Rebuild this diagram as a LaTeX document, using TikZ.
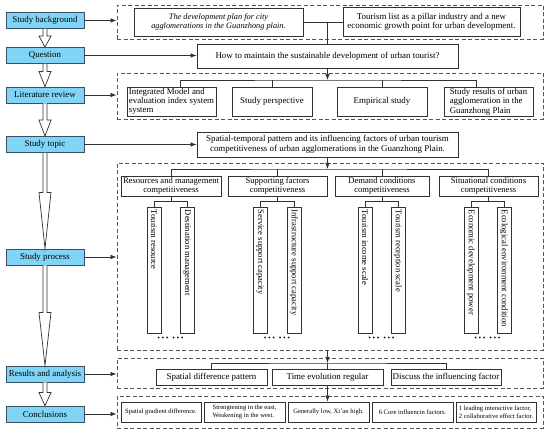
\documentclass[tikz,border=0pt]{standalone}
\usepackage{fontspec}
\setmainfont{Liberation Serif}
\usetikzlibrary{arrows.meta,calc}
\definecolor{cyanfill}{RGB}{128,212,246}
\definecolor{cyanline}{RGB}{55,80,100}
\definecolor{boxline}{RGB}{50,50,50}
\definecolor{dashline}{RGB}{85,85,85}
\newcommand\hollowarr[3]{%
  \draw[hol] ($(#1.south)+(-2,0)$) -- ($(#2.north)+(-2,-#3)$) -- ($(#2.north)+(-6,-#3)$) -- (#2.north) -- ($(#2.north)+(6,-#3)$) -- ($(#2.north)+(2,-#3)$) -- ($(#1.south)+(2,0)$);}
\begin{document}
\begin{tikzpicture}[x=1pt,y=-1pt,
  lbox/.style={draw=cyanline, fill=cyanfill, line width=0.8pt, minimum width=78pt, minimum height=16pt, inner sep=0pt, font=\fontsize{8.9}{9.6}\selectfont},
  bx/.style={draw=boxline, line width=0.8pt, inner sep=0pt, font=\fontsize{8.9}{9.6}\selectfont, align=center},
  sz/.style 2 args={minimum width=#1pt, minimum height=#2pt},
  dbox/.style={draw=dashline, dash pattern=on 4pt off 2.5pt, line width=0.9pt, inner sep=0pt},
  conn/.style={draw=boxline, line width=0.7pt},
  arr/.style={conn, -{Latex[length=6pt,width=4.5pt]}},
  hol/.style={draw=boxline, fill=white, line width=0.7pt, line join=miter},
  vtxt/.style={rotate=-90, anchor=west, inner sep=0pt, font=\fontsize{8.6}{9}\selectfont},
  dots/.style={inner sep=0pt, font=\fontsize{7.5}{7.5}\selectfont},
  small/.style={font=\fontsize{6.6}{7.6}\selectfont, align=left},
]
\useasboundingbox (0,0) rectangle (550,435);

% left column
\node[lbox] (lb1) at (45,20.5) {Study background};
\node[lbox] (lb2) at (45,55.5) {Question};
\node[lbox] (lb3) at (45,95) {Literature review};
\node[lbox] (lb4) at (45,144.5) {Study topic};
\node[lbox] (lb5) at (45,257) {Study process};
\node[lbox] (lb6) at (45,374) {Results and analysis};
\node[lbox] (lb7) at (45,414) {Conclusions};

\hollowarr{lb1}{lb2}{11}
\hollowarr{lb2}{lb3}{15}
\hollowarr{lb3}{lb4}{16}
\hollowarr{lb4}{lb5}{56}
\hollowarr{lb5}{lb6}{53}
\hollowarr{lb6}{lb7}{13}

% dashed frames
\node[dbox, sz={426}{34}] (D1) at (330,22) {};
\node[dbox, sz={426}{46}] (D2) at (330,96) {};
\node[dbox, sz={426}{187}] (D3) at (330,256.5) {};
\node[dbox, sz={426}{30}] (D4) at (330,373) {};
\node[dbox, sz={426}{32}] (D5) at (330,412) {};

% background
\node[bx, sz={169}{28}, font=\itshape\fontsize{8.3}{9.6}\selectfont] (bg1) at (218.5,22) {The development plan for city\\agglomerations in the Guanzhong plain.};
\node[bx, sz={177}{29}] (bg2) at (431.5,22) {Tourism list as a pillar industry and a new\\economic growth point for urban development.};
\node[bx, sz={261}{24}] (q) at (327.5,56) {How to maintain the sustainable development of urban tourist?};
\coordinate (bgj) at (327.5,22);
\draw[conn] (bg1.east) -- (bg2.west);
\draw[conn] (bgj) -- (q.north);

% literature
\node[bx, sz={89}{29}, align=left, font=\fontsize{8.8}{9.4}\selectfont] (l1) at (171.5,101.5) {Integrated Model and\\evaluation index system\\system};
\node[bx, sz={80}{29}] (l2) at (272,101.5) {Study perspective};
\node[bx, sz={90}{29}] (l3) at (382,101.5) {Empirical study};
\node[bx, sz={89}{29}, align=left, font=\fontsize{8.8}{9.4}\selectfont] (l4) at (488.5,101.5) {Study results of urban\\agglomeration in the\\Guanzhong Plain};
\coordinate (lbus) at (327.5,80);
\coordinate (l1t) at ($(l1.north)+(8.5,0)$);
\coordinate (l4t) at ($(l4.north)+(-12,0)$);
\draw[conn] (l1t) |- (lbus) -| (l4t);
\draw[conn] (l2.north) -- (l2.north |- lbus);
\draw[conn] (l3.north) -- (l3.north |- lbus);
\draw[arr] (q.south) -- (lbus);

% study topic
\node[bx, sz={261}{25}] (t) at (327.5,144.5) {Spatial-temporal pattern and its influencing factors of urban tourism\\competitiveness of urban agglomerations in the Guanzhong Plain.};

% process
\node[bx, sz={100}{20}, font=\fontsize{8.6}{9.2}\selectfont] (c1) at (171,186) {Resources and management\\competitiveness};
\node[bx, sz={99}{20}, font=\fontsize{8.6}{9.2}\selectfont] (c2) at (277.5,186) {Supporting factors\\competitiveness};
\node[bx, sz={94}{20}, font=\fontsize{8.6}{9.2}\selectfont] (c3) at (382,186) {Demand conditions\\competitiveness};
\node[bx, sz={99}{20}, font=\fontsize{8.6}{9.2}\selectfont] (c4) at (488.5,186) {Situational conditions\\competitiveness};
\coordinate (pbus) at (327.5,169);
\draw[conn] (c1.north) |- (pbus) -| (c4.north);
\draw[conn] (c2.north) -- (c2.north |- pbus);
\draw[conn] (c3.north) -- (c3.north |- pbus);
\draw[arr] (t.south) -- (pbus);

\node[bx, sz={14}{126}] (s11) at (154,270) {};
\node[bx, sz={14}{126}] (s12) at (187,270) {};
\node[bx, sz={14}{126}] (s21) at (260,270) {};
\node[bx, sz={14}{126}] (s22) at (294,270) {};
\node[bx, sz={14}{126}] (s31) at (365,270) {};
\node[bx, sz={14}{126}] (s32) at (398,270) {};
\node[bx, sz={14}{126}] (s41) at (471,270) {};
\node[bx, sz={14}{126}] (s42) at (504,270) {};

\node[vtxt] (t11) at ($(s11.north)+(0,3)$) {Tourism resource};
\node[vtxt] (t12) at ($(s12.north)+(0,3)$) {Destination management};
\node[vtxt] (t21) at ($(s21.north)+(0,3)$) {Service support capacity};
\node[vtxt] (t22) at ($(s22.north)+(0,3)$) {Infrastructure support capacity};
\node[vtxt] (t31) at ($(s31.north)+(0,3)$) {Tourism income scale};
\node[vtxt] (t32) at ($(s32.north)+(0,3)$) {Tourism reception scale};
\node[vtxt] (t41) at ($(s41.north)+(0,3)$) {Economic development power};
\node[vtxt] (t42) at ($(s42.north)+(0,3)$) {Ecological environment condition};

\foreach \i in {1,2,3,4}{
  \path (c\i.south) ++(0,5) coordinate (sb\i);
  \draw[conn] (c\i.south) -- (sb\i);
  \draw[conn] (s\i1.north) |- (sb\i) -| (s\i2.north);
}

\node[dots] (dt1) at (170.5,339) {•\hspace{1.6pt}•\hspace{1.6pt}•\hspace{4pt}•\hspace{1.6pt}•\hspace{1.6pt}•};
\node[dots] (dt2) at (277,339) {•\hspace{1.6pt}•\hspace{1.6pt}•\hspace{4pt}•\hspace{1.6pt}•\hspace{1.6pt}•};
\node[dots] (dt3) at (381.5,339) {•\hspace{1.6pt}•\hspace{1.6pt}•\hspace{4pt}•\hspace{1.6pt}•\hspace{1.6pt}•};
\node[dots] (dt4) at (487.5,339) {•\hspace{1.6pt}•\hspace{1.6pt}•\hspace{4pt}•\hspace{1.6pt}•\hspace{1.6pt}•};

% results
\node[bx, sz={111}{16}] (r1) at (211.5,377) {Spatial difference pattern};
\node[bx, sz={111}{16}] (r2) at (327.5,377) {Time evolution regular};
\node[bx, sz={110}{16}] (r3) at (446,377) {Discuss the influencing factor};
\coordinate (rbus) at (327.5,363);
\draw[conn] (r1.north) |- (rbus) -| (r3.north);
\draw[conn] (r2.north) -- (rbus);
\draw[arr] (rbus |- D3.south) -- (rbus);

% conclusions
\node[bx, sz={80}{20}, small] (k1) at (161,412) {Spatial gradient difference.};
\node[bx, sz={81}{20}, small] (k2) at (244.5,412) {Strengtening in the east,\\Weakening in the west.};
\node[bx, sz={81}{20}, small] (k3) at (328.5,412) {Generally low, Xi'an high.};
\node[bx, sz={81}{20}, small] (k4) at (412.5,412) {6 Core influencin factors.};
\node[bx, sz={80}{20}, small] (k5) at (496,412) {1 leading interactive factor,\\2 collaborative effect factor.};
\draw[arr] (r2.south) -- (r2.south |- k3.north);

% horizontal arrows
\draw[arr] (lb1.east) -- (lb1.east -| D1.west);
\draw[arr] (lb2.east) -- (lb2.east -| q.west);
\draw[arr] (lb3.east) -- (lb3.east -| D2.west);
\draw[arr] (lb4.east) -- (lb4.east -| t.west);
\draw[arr] (lb5.east) -- (lb5.east -| D3.west);
\draw[arr] (lb6.east) -- (lb6.east -| D4.west);
\draw[arr] (lb7.east) -- (lb7.east -| D5.west);
\end{tikzpicture}
\end{document}
